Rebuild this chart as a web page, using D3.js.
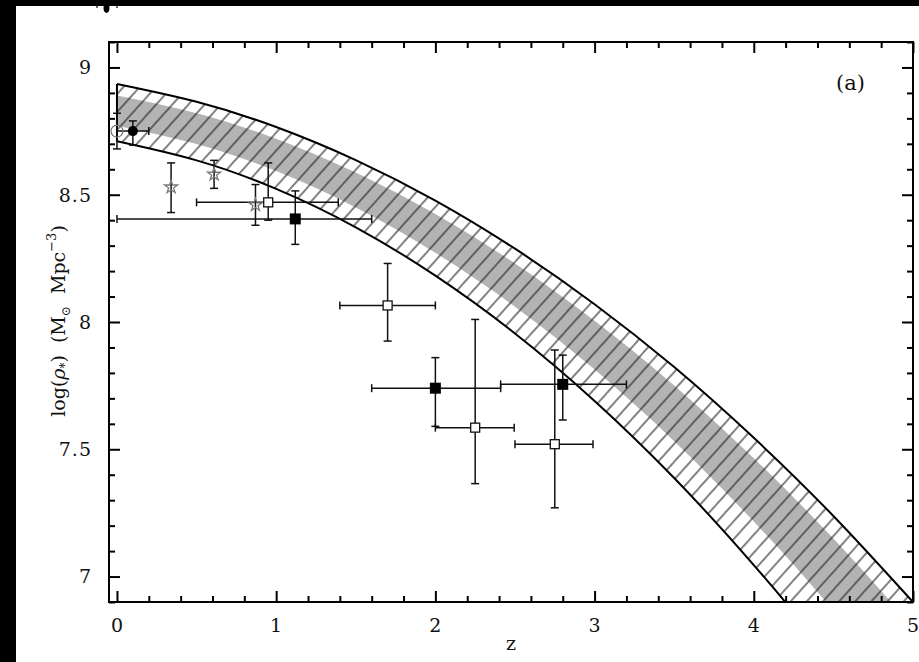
<!DOCTYPE html>
<html>
<head>
<meta charset="utf-8">
<script src="https://cdn.jsdelivr.net/npm/d3@7"></script>
<style>
  html, body { margin: 0; padding: 0; background: #fff; }
  svg { display: block; }
</style>
</head>
<body>
<svg id="chart" width="919" height="662"></svg>
<script>
// ---- model band: log stellar mass density vs redshift ----
const bandZ     = [0, 0.5, 1, 1.5, 2, 2.5, 3, 3.5, 4, 4.5, 5];
const bandUpper = [8.935, 8.865, 8.766, 8.636, 8.477, 8.288, 8.070, 7.823, 7.545, 7.238, 6.900];
const bandLower = [8.710, 8.635, 8.523, 8.372, 8.182, 7.955, 7.690, 7.387, 7.045, 6.666, 6.248];
// shaded core of the band
const coreUpper = [8.890, 8.820, 8.720, 8.587, 8.424, 8.230, 8.005, 7.751, 7.465, 7.149, 6.802];
const coreLower = [8.771, 8.699, 8.593, 8.450, 8.272, 8.060, 7.813, 7.532, 7.216, 6.867, 6.483];

// ---- observations: [z, value, z minus, z plus, value minus, value plus] ----
const openCircles   = [[0.0, 8.75, 0, 0, 0.07, 0.07]];
const filledCircles = [[0.1, 8.75, 0.1, 0.1, 0.055, 0.04]];
const stars = [
  [0.34, 8.53, 0, 0, 0.10, 0.095],
  [0.61, 8.58, 0, 0, 0.055, 0.055],
  [0.87, 8.46, 0, 0, 0.08, 0.08]
];
const openSquares = [
  [0.95, 8.47, 0.45, 0.44, 0.07, 0.155],
  [1.70, 8.065, 0.30, 0.30, 0.14, 0.165],
  [2.25, 7.585, 0.25, 0.245, 0.22, 0.425],
  [2.75, 7.52, 0.25, 0.24, 0.25, 0.37]
];
const filledSquares = [
  [1.12, 8.405, 1.12, 0.48, 0.10, 0.11],
  [2.0, 7.74, 0.40, 0.41, 0.15, 0.12],
  [2.8, 7.755, 0.39, 0.40, 0.14, 0.115]
];

// ---- axes ----
const xMajor = [0, 1, 2, 3, 4, 5];
const xMinor = d3.range(0, 5.001, 0.2);
const yMajor = [7, 7.5, 8, 8.5, 9];
const yMinor = d3.range(6.9, 9.101, 0.1);
const xDomain = [-0.05, 5.0];
const yDomain = [6.9, 9.1];

const frame = { left: 109, right: 913, top: 42, bottom: 602 };
const x = d3.scaleLinear().domain(xDomain).range([frame.left, frame.right]);
const y = d3.scaleLinear().domain(yDomain).range([frame.bottom, frame.top]);

const svg = d3.select("#chart");
const FONT = "'DejaVu Serif', 'Liberation Serif', serif";

// page edges
svg.append("rect").attr("x", 0).attr("y", 0).attr("width", 919).attr("height", 662).attr("fill", "#fff");
svg.append("rect").attr("x", 0).attr("y", 0).attr("width", 919).attr("height", 6).attr("fill", "#000");
svg.append("rect").attr("x", 0).attr("y", 0).attr("width", 16).attr("height", 662).attr("fill", "#000");
svg.append("ellipse").attr("cx", 106.5).attr("cy", 8).attr("rx", 3).attr("ry", 5).attr("fill", "#000");
svg.append("circle").attr("cx", 97).attr("cy", 7).attr("r", 1).attr("fill", "#333");
svg.append("circle").attr("cx", 117).attr("cy", 7).attr("r", 1).attr("fill", "#333");

const defs = svg.append("defs");
defs.append("clipPath").attr("id", "plotClip")
  .append("rect")
  .attr("x", frame.left).attr("y", frame.top)
  .attr("width", frame.right - frame.left).attr("height", frame.bottom - frame.top);

const hatch = defs.append("pattern")
  .attr("id", "hatch")
  .attr("patternUnits", "userSpaceOnUse")
  .attr("width", 12).attr("height", 12)
  .attr("patternTransform", "rotate(42)");
hatch.append("line")
  .attr("x1", 6).attr("y1", 0).attr("x2", 6).attr("y2", 12)
  .attr("stroke", "#1a1a1a").attr("stroke-width", 1.1);

const plot = svg.append("g").attr("clip-path", "url(#plotClip)");

const bandRows = bandZ.map((z, i) => ({ z, up: bandUpper[i], lo: bandLower[i], cu: coreUpper[i], cl: coreLower[i] }));
const curve = d3.curveNatural;

const bandArea = d3.area().x(d => x(d.z)).y0(d => y(d.lo)).y1(d => y(d.up)).curve(curve);
const coreArea = d3.area().x(d => x(d.z)).y0(d => y(d.cl)).y1(d => y(d.cu)).curve(curve);

plot.append("path").attr("d", bandArea(bandRows)).attr("fill", "#fff");
plot.append("path").attr("d", coreArea(bandRows)).attr("fill", "#b3b3b3");
plot.append("path").attr("d", bandArea(bandRows)).attr("fill", "url(#hatch)");

const upperLine = d3.line().x(d => x(d.z)).y(d => y(d.up)).curve(curve);
const lowerLine = d3.line().x(d => x(d.z)).y(d => y(d.lo)).curve(curve);
plot.append("path").attr("d", upperLine(bandRows)).attr("fill", "none").attr("stroke", "#000").attr("stroke-width", 2);
plot.append("path").attr("d", lowerLine(bandRows)).attr("fill", "none").attr("stroke", "#000").attr("stroke-width", 2);
plot.append("line")
  .attr("x1", x(bandZ[0])).attr("x2", x(bandZ[0]))
  .attr("y1", y(bandLower[0])).attr("y2", y(bandUpper[0]))
  .attr("stroke", "#000").attr("stroke-width", 2);

// ---- error bars ----
const CAP = 4;
function errorBars(rows, color) {
  const g = plot.append("g").attr("stroke", color).attr("stroke-width", 1.5).attr("fill", "none");
  rows.forEach(r => {
    const [z, v, zm, zp, vm, vp] = r;
    const cx = x(z), cy = y(v);
    if (zm > 0 || zp > 0) {
      const x0 = x(z - zm), x1 = x(z + zp);
      g.append("line").attr("x1", x0).attr("x2", x1).attr("y1", cy).attr("y2", cy);
      g.append("line").attr("x1", x0).attr("x2", x0).attr("y1", cy - CAP).attr("y2", cy + CAP);
      g.append("line").attr("x1", x1).attr("x2", x1).attr("y1", cy - CAP).attr("y2", cy + CAP);
    }
    if (vm > 0 || vp > 0) {
      const y0 = y(v - vm), y1 = y(v + vp);
      g.append("line").attr("x1", cx).attr("x2", cx).attr("y1", y0).attr("y2", y1);
      g.append("line").attr("x1", cx - CAP).attr("x2", cx + CAP).attr("y1", y0).attr("y2", y0);
      g.append("line").attr("x1", cx - CAP).attr("x2", cx + CAP).attr("y1", y1).attr("y2", y1);
    }
  });
}
errorBars(openCircles, "#111");
errorBars(filledCircles, "#111");
errorBars(stars, "#111");
errorBars(openSquares, "#111");
errorBars(filledSquares, "#111");

// ---- symbols ----
plot.selectAll(".ocirc").data(openCircles).join("circle")
  .attr("cx", d => x(d[0])).attr("cy", d => y(d[1])).attr("r", 6)
  .attr("fill", "none").attr("stroke", "#777").attr("stroke-width", 1.2);

plot.selectAll(".fcirc").data(filledCircles).join("circle")
  .attr("cx", d => x(d[0])).attr("cy", d => y(d[1])).attr("r", 5)
  .attr("fill", "#000");

const star = d3.symbol().type(d3.symbolStar).size(52);
plot.selectAll(".star").data(stars).join("path")
  .attr("transform", d => `translate(${x(d[0])},${y(d[1])})`)
  .attr("d", star())
  .attr("fill", "none").attr("stroke", "#7a7a7a").attr("stroke-width", 1.3);

const SQ = 9;
plot.selectAll(".osq").data(openSquares).join("rect")
  .attr("x", d => x(d[0]) - SQ / 2).attr("y", d => y(d[1]) - SQ / 2)
  .attr("width", SQ).attr("height", SQ)
  .attr("fill", "#fff").attr("stroke", "#111").attr("stroke-width", 1.3);

const FQ = 11;
plot.selectAll(".fsq").data(filledSquares).join("rect")
  .attr("x", d => x(d[0]) - FQ / 2).attr("y", d => y(d[1]) - FQ / 2)
  .attr("width", FQ).attr("height", FQ)
  .attr("fill", "#000");

// ---- frame and inward ticks ----
const MAJ = 11, MIN = 6;
function tickAxis(axisFn, scale, values, size, transform) {
  const ax = axisFn(scale).tickValues(values).tickSize(size).tickFormat("");
  const g = svg.append("g").attr("transform", transform).call(ax);
  g.select(".domain").remove();
  g.selectAll(".tick line").attr("stroke", "#000").attr("stroke-width", 2);
  return g;
}
const xMinorOnly = xMinor.filter(v => !xMajor.some(m => Math.abs(m - v) < 1e-6));
const yMinorOnly = yMinor.filter(v => !yMajor.some(m => Math.abs(m - v) < 1e-6));
tickAxis(d3.axisBottom, x, xMajor, -MAJ, `translate(0,${frame.bottom})`);
tickAxis(d3.axisBottom, x, xMinorOnly, -MIN, `translate(0,${frame.bottom})`);
tickAxis(d3.axisTop, x, xMajor, -MAJ, `translate(0,${frame.top})`);
tickAxis(d3.axisTop, x, xMinorOnly, -MIN, `translate(0,${frame.top})`);
tickAxis(d3.axisLeft, y, yMajor, -MAJ, `translate(${frame.left},0)`);
tickAxis(d3.axisLeft, y, yMinorOnly, -MIN, `translate(${frame.left},0)`);
tickAxis(d3.axisRight, y, yMajor, -MAJ, `translate(${frame.right},0)`);
tickAxis(d3.axisRight, y, yMinorOnly, -MIN, `translate(${frame.right},0)`);

svg.append("rect")
  .attr("x", frame.left).attr("y", frame.top)
  .attr("width", frame.right - frame.left).attr("height", frame.bottom - frame.top)
  .attr("fill", "none").attr("stroke", "#000").attr("stroke-width", 2);

// tick labels
const xFmt = d3.format("d");
svg.append("g").selectAll("text").data(xMajor).join("text")
  .attr("x", d => x(d)).attr("y", 632)
  .attr("text-anchor", "middle")
  .attr("font-family", FONT).attr("font-size", 19).attr("fill", "#111")
  .text(d => xFmt(d));

const yFmt = v => (Number.isInteger(v) ? String(v) : v.toFixed(1));
svg.append("g").selectAll("text").data(yMajor).join("text")
  .attr("x", 92).attr("y", d => y(d))
  .attr("dy", "0.36em")
  .attr("text-anchor", "end")
  .attr("font-family", FONT).attr("font-size", 19).attr("fill", "#111")
  .attr("letter-spacing", 1)
  .text(d => yFmt(d));

// axis titles
svg.append("text")
  .attr("x", 511).attr("y", 650)
  .attr("text-anchor", "middle")
  .attr("font-family", FONT).attr("font-size", 19).attr("fill", "#111")
  .text("z");

const yt = svg.append("text")
  .attr("transform", "translate(65,321) rotate(-90)")
  .attr("text-anchor", "middle")
  .attr("font-family", FONT).attr("font-size", 19).attr("fill", "#111");
yt.append("tspan").text("log(");
yt.append("tspan").attr("font-style", "italic").text("ρ");
yt.append("tspan").attr("font-size", 12).attr("dy", 4).text("*");
yt.append("tspan").attr("dy", -4).text(")\u00A0\u00A0(M");
yt.append("tspan").attr("font-size", 12).attr("dy", 5).text("⊙");
yt.append("tspan").attr("dy", -5).text("\u00A0\u00A0Mpc");
yt.append("tspan").attr("font-size", 13).attr("dy", -9).text("−3");
yt.append("tspan").attr("dy", 9).text(")");

// panel tag
svg.append("text")
  .attr("x", 865).attr("y", 90)
  .attr("text-anchor", "end")
  .attr("font-family", FONT).attr("font-size", 21).attr("fill", "#111")
  .text("(a)");
</script>
</body>
</html>
